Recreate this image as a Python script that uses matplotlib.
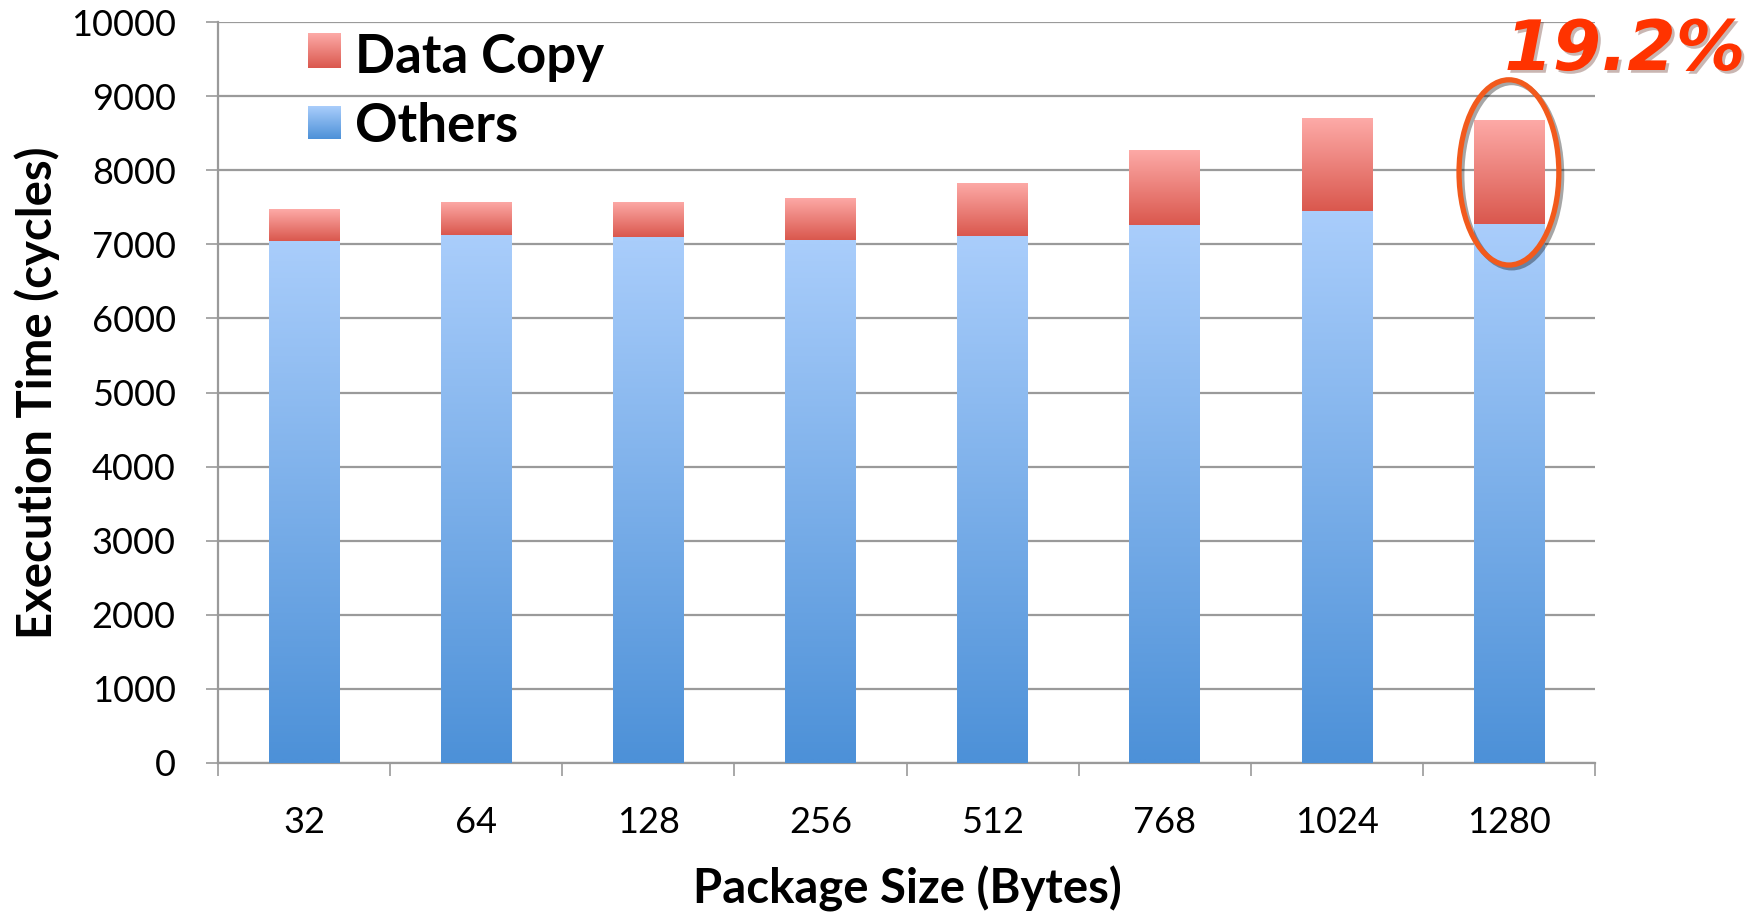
import numpy as np
import matplotlib
matplotlib.use("Agg")
import matplotlib.pyplot as plt
from matplotlib.patches import Ellipse
import matplotlib.patheffects as pe
from matplotlib.colors import to_rgb

plt.rcParams["font.family"] = ["Lato", "DejaVu Sans"]

# data
sizes = ["32", "64", "128", "256", "512", "768", "1024", "1280"]
others = [7045, 7122, 7095, 7054, 7108, 7257, 7450, 7270]
data_copy = [425, 446, 473, 568, 716, 1013, 1253, 1406]

W, H = 1757, 914
fig = plt.figure(figsize=(W / 100, H / 100), dpi=100)
ax = fig.add_axes([218 / W, 1 - 763 / H, (1595 - 218) / W, (763 - 22) / H])

x = np.arange(len(sizes))
bw = 0.41


def gradient(top_col, bot_col, n=64):
    t = np.linspace(0, 1, n)[:, None]
    a = np.array(to_rgb(top_col))
    b = np.array(to_rgb(bot_col))
    return (a * (1 - t) + b * t)[:, None, :]


blue_grad = gradient("#A9CDFB", "#4D91D8")
red_grad = gradient("#FDAAA7", "#DA584E")

b1 = ax.bar(x, others, bw, color="none", edgecolor="none", zorder=3)
b2 = ax.bar(x, data_copy, bw, bottom=others, color="none", edgecolor="none", zorder=3)

for bars, grad in [(b1, blue_grad), (b2, red_grad)]:
    for r in bars:
        x0, y0 = r.get_x(), r.get_y()
        im = ax.imshow(grad, extent=[x0, x0 + r.get_width(), y0, y0 + r.get_height()],
                       aspect="auto", zorder=3, interpolation="bilinear")
        im.set_clip_path(r)

ax.set_xlim(-0.5, len(sizes) - 0.5)
ax.set_ylim(0, 10000)
ax.set_yticks(np.arange(0, 10001, 1000))
ax.set_yticklabels([str(v) for v in range(0, 10001, 1000)], fontsize=26)
ax.grid(axis="y", color="#9a9a9a", lw=1.6, zorder=0)

# category boundaries as major ticks, labels on minor ticks
ax.set_xticks(np.arange(-0.5, len(sizes), 1.0))
ax.set_xticklabels([])
ax.set_xticks(x, minor=True)
ax.set_xticklabels(sizes, minor=True, fontsize=26)
ax.tick_params(axis="x", which="major", length=9.5, width=1.2, color="#9a9a9a")
ax.tick_params(axis="x", which="minor", length=0, pad=31)
ax.tick_params(axis="y", length=8.5, width=1.2, color="#9a9a9a", pad=22)

for s in ["top", "right"]:
    ax.spines[s].set_visible(False)
for s in ["left", "bottom"]:
    ax.spines[s].set_color("#9a9a9a")
    ax.spines[s].set_linewidth(1.6)

fig.text(37 / W, 1 - 393 / H, "Execution Time (cycles)", fontsize=34, fontweight="bold",
         rotation=90, ha="center", va="center")
fig.text(907 / W, 1 - 889 / H, "Package Size (Bytes)", fontsize=34, fontweight="bold",
         ha="center", va="center")

# legend drawn by hand
for (ytop, ybot), grad, lab, ytxt in [((33, 68), red_grad, "Data Copy", 57),
                                       ((106, 139), blue_grad, "Others", 127)]:
    lax = fig.add_axes([308 / W, 1 - ybot / H, 33 / W, (ybot - ytop) / H])
    lax.imshow(grad, aspect="auto", interpolation="bilinear")
    lax.axis("off")
    fig.text(355 / W, 1 - ytxt / H, lab, fontsize=38, fontweight="bold", va="center")

# highlight on last bar
ell = Ellipse((x[-1], 7970), 0.58, 2500, facecolor="none", edgecolor="#F25A1C",
              lw=3.8, zorder=5,
              path_effects=[pe.SimpleLineShadow(offset=(2, -2), alpha=0.35), pe.Normal()])
ax.add_patch(ell)

fig.text(1625 / W, 1 - 70 / H, "19.2%", fontsize=50, fontweight="bold", fontstyle="italic",
         family="DejaVu Sans", color="#FF3300", ha="center", va="baseline",
         path_effects=[pe.withSimplePatchShadow(offset=(2, -2), alpha=0.3)])

fig.savefig("out.png", dpi=100)
